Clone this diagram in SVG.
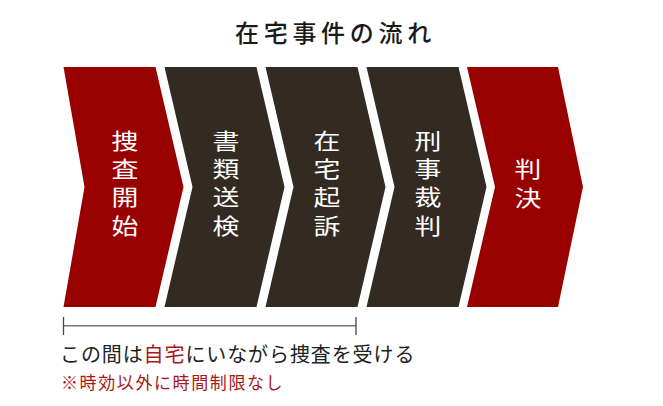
<svg xmlns="http://www.w3.org/2000/svg" width="663" height="406" viewBox="0 0 663 406">
<style>
.red{fill:#990000}
.dark{fill:#332a22}
.lbl{font-family:"Noto Sans CJK JP","Noto Sans",sans-serif;font-size:22px;fill:#ffffff;writing-mode:vertical-rl;text-orientation:upright;letter-spacing:6.3px}
.title{font-family:"Noto Sans CJK JP","Noto Sans",sans-serif;font-size:24px;font-weight:500;fill:#1a1a1a;letter-spacing:4.7px}
.body{font-family:"Noto Sans CJK JP","Noto Sans",sans-serif;font-size:20px;fill:#222222;letter-spacing:0.9px}
.hl{fill:#a81818}
.note{font-family:"Noto Sans CJK JP","Noto Sans",sans-serif;font-size:17px;fill:#a81818;letter-spacing:1.6px}
</style>
<rect width="663" height="406" fill="#ffffff"/>
<text id="title" class="title" x="235" y="41.6">在宅事件の流れ</text>
<g id="step1">
<polygon class="red" points="63.5,67 155.5,67 183.5,187 155.5,307 63.5,307 84.5,187"/>
<text class="lbl" transform="translate(125 0) scale(1.22 1)" x="0" y="129.5">捜査開始</text>
</g>
<g id="step2">
<polygon class="dark" points="164.5,67 256.5,67 284.5,187 256.5,307 164.5,307 192.5,187"/>
<text class="lbl" transform="translate(226 0) scale(1.22 1)" x="0" y="129.5">書類送検</text>
</g>
<g id="step3">
<polygon class="dark" points="265.5,67 357.5,67 385.5,187 357.5,307 265.5,307 293.5,187"/>
<text class="lbl" transform="translate(327 0) scale(1.22 1)" x="0" y="129.5">在宅起訴</text>
</g>
<g id="step4">
<polygon class="dark" points="366.5,67 458.5,67 486.5,187 458.5,307 366.5,307 394.5,187"/>
<text class="lbl" transform="translate(428 0) scale(1.22 1)" x="0" y="129.5">刑事裁判</text>
</g>
<g id="step5">
<polygon class="red" points="467,67 558,67 583,187 558,307 467,307 495,187"/>
<text class="lbl" transform="translate(528 0) scale(1.22 1)" x="0" y="158">判決</text>
</g>
<g id="connectors">
<line x1="63.5" y1="325.7" x2="356" y2="325.7" stroke="#777777" stroke-width="1.4"/>
<line x1="63.5" y1="317" x2="63.5" y2="335" stroke="#444444" stroke-width="1.3"/>
<line x1="356" y1="317" x2="356" y2="335" stroke="#444444" stroke-width="1.3"/>
</g>
<text id="caption" class="body" x="60" y="362">この間は<tspan class="hl">自宅</tspan>にいながら捜査を受ける</text>
<text id="note" class="note" x="61" y="389">※時効以外に時間制限なし</text>
</svg>
